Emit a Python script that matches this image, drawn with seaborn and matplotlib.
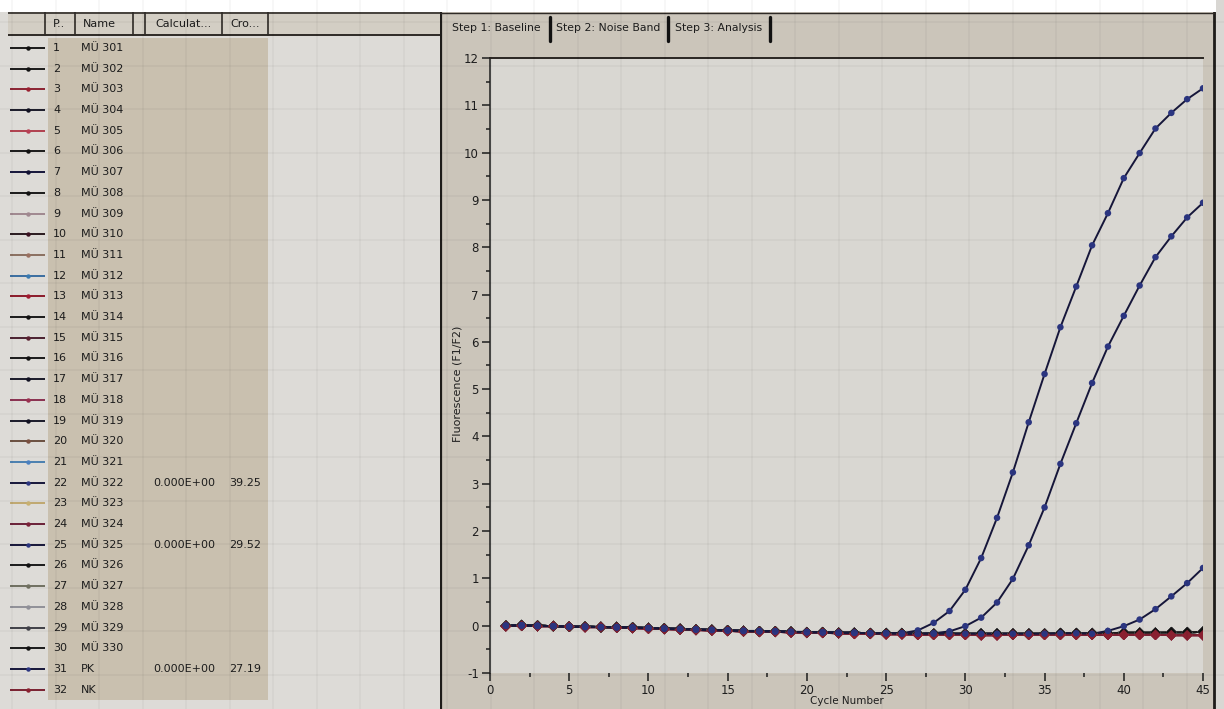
import numpy as np
import pandas as pd
import matplotlib.pyplot as plt
import seaborn as sns

W, H = 1224, 709

# ---- data ----
cycles = list(range(1, 46))

sample_ids = list(range(1, 33))
sample_names = ['MÜ 301', 'MÜ 302', 'MÜ 303', 'MÜ 304', 'MÜ 305', 'MÜ 306', 'MÜ 307', 'MÜ 308',
                'MÜ 309', 'MÜ 310', 'MÜ 311', 'MÜ 312', 'MÜ 313', 'MÜ 314', 'MÜ 315', 'MÜ 316',
                'MÜ 317', 'MÜ 318', 'MÜ 319', 'MÜ 320', 'MÜ 321', 'MÜ 322', 'MÜ 323', 'MÜ 324',
                'MÜ 325', 'MÜ 326', 'MÜ 327', 'MÜ 328', 'MÜ 329', 'MÜ 330', 'PK', 'NK']
calc_values = {22: '0.000E+00', 25: '0.000E+00', 31: '0.000E+00'}
ct_values = {22: '39.25', 25: '29.52', 31: '27.19'}

# flat (negative) runs, two groups of traces
base_dark = [0.00, 0.01, 0.00, -0.01, -0.02, -0.02, -0.03, -0.03, -0.04, -0.05,
             -0.06, -0.07, -0.08, -0.09, -0.10, -0.11, -0.12, -0.12, -0.13, -0.14,
             -0.14, -0.15, -0.15, -0.16, -0.16, -0.16, -0.17, -0.17, -0.17, -0.17,
             -0.17, -0.17, -0.17, -0.17, -0.17, -0.16, -0.16, -0.16, -0.16, -0.15,
             -0.15, -0.15, -0.14, -0.14, -0.13]
base_red = [-0.01, 0.00, -0.01, -0.01, -0.02, -0.03, -0.03, -0.04, -0.05, -0.06,
            -0.07, -0.08, -0.09, -0.10, -0.11, -0.12, -0.13, -0.13, -0.14, -0.15,
            -0.15, -0.16, -0.17, -0.17, -0.18, -0.18, -0.19, -0.19, -0.19, -0.19,
            -0.20, -0.20, -0.19, -0.19, -0.19, -0.19, -0.19, -0.19, -0.19, -0.19,
            -0.19, -0.19, -0.20, -0.20, -0.20]
red_samples = [3, 5, 9, 13, 15, 18, 24, 32]

# amplifying runs
pk = [0.00, 0.01, 0.00, -0.01, -0.02, -0.02, -0.03, -0.03, -0.04, -0.05,
      -0.06, -0.07, -0.08, -0.09, -0.10, -0.11, -0.12, -0.12, -0.13, -0.14,
      -0.14, -0.15, -0.15, -0.16, -0.16, -0.16, -0.10, 0.06, 0.31, 0.76,
      1.43, 2.28, 3.24, 4.30, 5.32, 6.31, 7.17, 8.04, 8.72, 9.46,
      9.99, 10.51, 10.84, 11.13, 11.36]
mu325 = [0.00, 0.00, -0.01, -0.01, -0.02, -0.03, -0.03, -0.04, -0.04, -0.05,
         -0.06, -0.07, -0.08, -0.09, -0.10, -0.11, -0.11, -0.12, -0.13, -0.13,
         -0.14, -0.15, -0.15, -0.16, -0.16, -0.17, -0.17, -0.16, -0.12, -0.01,
         0.17, 0.49, 0.99, 1.70, 2.50, 3.42, 4.28, 5.13, 5.90, 6.55,
         7.19, 7.79, 8.23, 8.63, 8.94]
mu322 = [0.00, 0.01, 0.00, -0.01, -0.02, -0.02, -0.03, -0.03, -0.04, -0.05,
         -0.06, -0.07, -0.08, -0.09, -0.10, -0.11, -0.12, -0.12, -0.13, -0.14,
         -0.14, -0.15, -0.15, -0.16, -0.16, -0.16, -0.17, -0.17, -0.17, -0.17,
         -0.17, -0.17, -0.17, -0.17, -0.17, -0.16, -0.16, -0.17, -0.11, -0.01,
         0.13, 0.35, 0.62, 0.90, 1.22]
rising = {31: pk, 25: mu325, 22: mu322}

line_colors = ['#1a1a1a', '#1a1a1a', '#8b2232', '#1a1a2a', '#b0404f', '#1a1a1a', '#15153a', '#1a1a1a',
               '#a08890', '#2a1a20', '#8a7060', '#3a6ea0', '#8b1a2a', '#1a1a1a', '#4a2030', '#1a1a1a',
               '#1a1a2a', '#8a3050', '#1a1a2a', '#6a5040', '#4a80b0', '#16163a', '#c0a870', '#6a2038',
               '#16163a', '#1a1a1a', '#707060', '#909098', '#404048', '#1a1a1a', '#16163a', '#7a2030']
dot_colors = ['#111111', '#111111', '#9a2030', '#111122', '#b84055', '#111111', '#111133', '#111111',
              '#a08890', '#3a1020', '#9a7060', '#3a7ab0', '#a01a30', '#111111', '#5a2030', '#111111',
              '#111122', '#9a3050', '#111122', '#7a5040', '#4a80c0', '#2b3580', '#c8b070', '#7a2038',
              '#2b3580', '#111111', '#707060', '#909098', '#404048', '#111111', '#2b3580', '#8a2030']

# long table for seaborn
rows = []
for sid, name in zip(sample_ids, sample_names):
    if sid in rising:
        vals = rising[sid]
    elif sid in red_samples:
        vals = base_red
    else:
        vals = base_dark
    for c, v in zip(cycles, vals):
        rows.append({'sample': name, 'id': sid, 'cycle': c, 'fluor': v,
                     'kind': 'rise' if sid in rising else 'flat'})
df = pd.DataFrame(rows)

line_pal = dict(zip(sample_names, line_colors))
dot_pal = dict(zip(sample_names, dot_colors))
hue_order = [n for s, n in zip(sample_ids, sample_names) if s not in rising] + \
            [n for s, n in zip(sample_ids, sample_names) if s in rising]

# ---- figure ----
sns.set_theme(style="white")
plt.rcParams['font.family'] = ['DejaVu Sans']
plt.rcParams['axes.unicode_minus'] = False

fig = plt.figure(figsize=(W / 100, H / 100), dpi=100, facecolor='white')


def box(x0, y0, x1, y1):
    return [x0 / W, 1 - y1 / H, (x1 - x0) / W, (y1 - y0) / H]


def bare(ax):
    ax.set_xticks([])
    ax.set_yticks([])
    for s in ax.spines.values():
        s.set_visible(False)


# left window
ax_lbg = fig.add_axes(box(0, 12, 440, 709))
ax_lbg.set_facecolor('#dddbd7')
bare(ax_lbg)

ax_hdr = fig.add_axes(box(8, 12, 440, 36))
ax_hdr.set_facecolor('#d3cec4')
ax_hdr.set_xlim(8, 440)
ax_hdr.set_ylim(36, 12)
bare(ax_hdr)
ax_hdr.axhline(35, color='#2e2a26', lw=1.4)
ax_hdr.axhline(13, color='#2e2a26', lw=1.2)
for xb in [45, 75, 133, 145, 222, 268]:
    ax_hdr.axvline(xb, color='#2e2a26', lw=1.2)
hdr_font = dict(fontsize=8, color='#1c1c1c', va='center', ha='left')
ax_hdr.text(53, 24, 'P..', **hdr_font)
ax_hdr.text(83, 24, 'Name', **hdr_font)
ax_hdr.text(155, 24, 'Calculat...', **hdr_font)
ax_hdr.text(230, 24, 'Cro...', **hdr_font)

ax_tab = fig.add_axes(box(8, 37.65, 268, 700))
ax_tab.set_facecolor('none')
ax_tab.set_xlim(8, 268)
ax_tab.set_ylim(32.5, 0.5)
bare(ax_tab)
ax_tab.axvspan(48, 268, color='#c9c0af', lw=0)
row_font = dict(fontsize=8, color='#1c1c1c', va='center', ha='left')
for sid, name, lc, dc in zip(sample_ids, sample_names, line_colors, dot_colors):
    ax_tab.plot([10, 45], [sid, sid], color=lc, lw=1.4, solid_capstyle='butt')
    ax_tab.plot([28], [sid], marker='o', ms=3.2, color=dc, mew=0)
    ax_tab.text(53, sid, str(sid), **row_font)
    ax_tab.text(81, sid, name, **row_font)
    if sid in calc_values:
        ax_tab.text(153, sid, calc_values[sid], **row_font)
        ax_tab.text(229, sid, ct_values[sid], **row_font)

# right window
ax_rbg = fig.add_axes(box(440, 12, 1216, 709))
ax_rbg.set_facecolor('#cbc5ba')
ax_rbg.set_xlim(440, 1216)
ax_rbg.set_ylim(709, 12)
bare(ax_rbg)
ax_rbg.axvline(441, color='#1e1c1a', lw=1.6)
ax_rbg.axvline(1214, color='#1e1c1a', lw=2.0)
ax_rbg.axhline(13, color='#2e2a26', lw=1.0)
tab_font = dict(fontsize=7.8, color='#1c1c1c', va='center', ha='left')
ax_rbg.text(452, 28, 'Step 1: Baseline', **tab_font)
ax_rbg.text(556, 28, 'Step 2: Noise Band', **tab_font)
ax_rbg.text(675, 28, 'Step 3: Analysis', **tab_font)
for xb in [550, 668, 770]:
    ax_rbg.plot([xb, xb], [17, 41], color='#111111', lw=2.4)

ax_edge = fig.add_axes(box(1216, 0, 1224, 709))
ax_edge.set_facecolor('#d9d7d3')
bare(ax_edge)

# main amplification plot
ax = fig.add_axes(box(490, 58, 1203, 673))
ax.set_facecolor('#d9d7d2')

sns.lineplot(data=df, x='cycle', y='fluor', hue='sample', hue_order=hue_order,
             palette=line_pal, estimator=None, sort=False, linewidth=1.4,
             legend=False, ax=ax)
sns.scatterplot(data=df[df['kind'] == 'flat'], x='cycle', y='fluor', hue='sample',
                palette=dot_pal, marker='D', s=30, linewidth=0, legend=False,
                ax=ax, zorder=3)
sns.scatterplot(data=df[df['kind'] == 'rise'], x='cycle', y='fluor', hue='sample',
                palette=dot_pal, marker='o', s=22, linewidth=0, legend=False,
                ax=ax, zorder=4)

ax.set_xlim(0, 45)
ax.set_ylim(-1, 12)
ax.set_xticks(range(0, 46, 5))
ax.set_xticks(np.arange(2.5, 45, 5), minor=True)
ax.set_yticks(range(-1, 13))
ax.set_yticks(np.arange(-0.5, 12, 1), minor=True)
ax.tick_params(axis='both', which='major', direction='out', length=6, width=1.1,
               color='#1e1e1e', labelsize=8.5, labelcolor='#1e1e1e', pad=2)
ax.tick_params(axis='both', which='minor', direction='out', length=3, width=1.1,
               color='#1e1e1e')
ax.tick_params(axis='x', which='both', bottom=True)
ax.tick_params(axis='y', which='both', left=True)
for side in ['right', 'bottom']:
    ax.spines[side].set_visible(False)
ax.spines['left'].set_color('#1e1e1e')
ax.spines['left'].set_linewidth(1.1)
ax.spines['top'].set_color('#2a2622')
ax.spines['top'].set_linewidth(1.4)
ax.set_ylabel('Fluorescence (F1/F2)', fontsize=8, color='#1e1e1e')
ax.yaxis.set_label_coords(-0.038, 0.47)
ax.set_xlabel('Cycle Number', fontsize=7.5, color='#1e1e1e')
ax.xaxis.set_label_coords(0.5, -0.046)
ax.xaxis.label.set_verticalalignment('center')
ax.grid(False)

# faint graph-paper squares showing through the photo
ax_paper = fig.add_axes([0, 0, 1, 1])
ax_paper.set_facecolor('none')
ax_paper.set_xlim(0, W)
ax_paper.set_ylim(H, 0)
ax_paper.set_xticks(np.arange(12, W, 43.5))
ax_paper.set_yticks(np.arange(22, H, 43.5))
ax_paper.tick_params(length=0, labelbottom=False, labelleft=False)
for s in ax_paper.spines.values():
    s.set_visible(False)
ax_paper.grid(True, color='#000000', alpha=0.03, lw=1.4)
ax_paper.set_zorder(10)

fig.savefig('out.png', dpi=100, facecolor=fig.get_facecolor())
